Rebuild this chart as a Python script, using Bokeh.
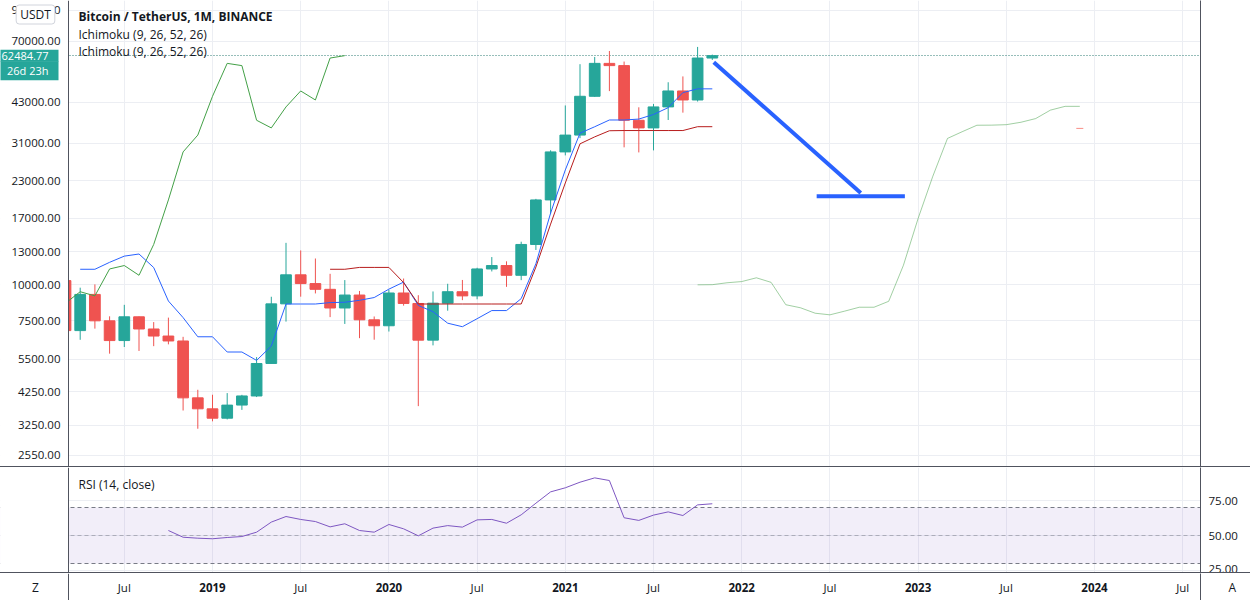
from bokeh.plotting import figure
from bokeh.models import Range1d, FixedTicker, Span, Label, Div
from bokeh.layouts import column
from bokeh.embed import file_html
from bokeh.resources import INLINE
from bokeh.core.properties import value

# ---------------- data ----------------
candle_start = "2018-03"
opens  = [10326, 6922, 9246, 7485, 6392, 7730, 7011, 6627, 6370, 4041,
          3701, 3434, 3814, 4102, 5321, 8574, 10818, 10085, 9631, 8294, 9200, 7546,
          7195, 9352, 8600, 6412, 8620, 9448, 9138, 11335, 11650, 10776, 13791, 19695,
          28923, 33092, 45134, 58739, 57697, 37254, 35045, 41461, 47101, 43820, 61300]
highs  = [11690, 9759, 10020, 7760, 8507, 7750, 7410, 7680, 6586, 4311,
          4143, 4198, 4140, 5600, 9075, 13970, 13147, 12325, 10905, 10370, 9506, 7750,
          9579, 10500, 9188, 9468, 10068, 10380, 11444, 12468, 12050, 14100, 19863, 29300,
          41950, 58352, 61844, 64854, 59592, 41330, 42448, 50500, 52920, 67000, 63000]
lows   = [6600, 6430, 7032, 5755, 6070, 5880, 6111, 6200, 3652, 3156,
          3349, 3400, 3670, 4067, 5320, 7440, 9080, 9320, 7710, 7300, 6515, 6435,
          6871, 8450, 3782, 6150, 8117, 8833, 8893, 11112, 9825, 10364, 13195, 17572,
          28130, 32296, 44950, 47044, 30000, 28805, 29278, 37332, 39600, 43284, 60382]
closes = [6923, 9246, 7485, 6391, 7730, 7011, 6626, 6371, 4041, 3702,
          3434, 3813, 4103, 5320, 8574, 10817, 10085, 9631, 8294, 9200, 7546, 7195,
          9352, 8600, 6410, 8621, 9448, 9138, 11335, 11650, 10776, 13791, 19695, 28923,
          33092, 45135, 58740, 57694, 37253, 35045, 41461, 47101, 43824, 61299, 62484.77]

conversion_start = "2018-04"
conversion_line = [11307, 11307, 11954, 12561, 12776, 11465, 8770, 7681, 6588,
                   6588, 5832, 5832, 5453, 6116, 8563, 8563, 8563, 8660, 8685, 8820, 9018,
                   9645, 10202, 8465, 8053, 7344, 7141, 7613, 8125, 8125, 8941, 11822, 17725,
                   25034, 33593, 35369, 37340, 37340, 37609, 39025, 41213, 46492, 47903, 47903]

base_start = "2019-09"
base_line = [11307, 11307, 11477, 11477, 11477, 10166, 8563, 8563, 8563, 8563, 8563,
             8563, 8563, 8563, 11510, 16228, 22553, 30851, 32622, 34262, 34318, 34318,
             34318, 34318, 34318, 35391, 35391]

lagging_start = "2018-02"
lagging_span = closes[-21:]          # closes shown 25 bars back

span_a_start = "2021-10"
leading_span_a = [9984, 9996, 10149, 10248, 10561, 10184, 8514, 8308, 7954, 7852, 8088,
                  8344, 8344, 8752, 11666, 16977, 23794, 32222, 33996, 35801, 35829,
                  35964, 36672, 37766, 40405, 41647, 41647]
span_b_month = ["2023-12"]
leading_span_b = [34908]

rsi_start = "2018-10"
rsi_values = [53.8, 49.0, 48.3,
              47.9, 48.8, 49.5, 52.6, 59.8, 63.8, 61.7, 60.2, 56.4, 58.6, 53.8, 52.6,
              58.1, 55.0, 50.0, 55.5, 57.3, 56.2, 61.4, 61.7, 59.0, 65.0, 73.3, 81.4,
              84.3, 88.3, 91.4, 89.5, 62.9, 61.0, 64.8, 67.1, 64.5, 72.1, 72.9]
rsi_band = [30, 70]
rsi_mid = 50

# drawings (month index from Jan 2019, price)
trend_m = [34.1, 44.1]
trend_p = [59250, 20820]
level_m = [41.1, 47.1]
level_p = [20270, 20270]

last_price = 62484.77
countdown = "26d 23h"

price_ticks = [90000, 70000, 43000, 31000, 23000, 17000, 13000, 10000, 7500, 5500, 4250, 3250, 2550]
rsi_ticks = [25, 50, 75]
time_ticks = ["2018-07", "2019-01", "2019-07", "2020-01", "2020-07", "2021-01", "2021-07",
              "2022-01", "2022-07", "2023-01", "2023-07", "2024-01", "2024-07"]
time_labels = ["Jul", "2019", "Jul", "2020", "Jul", "2021", "Jul", "2022", "Jul", "2023", "Jul", "2024", "Jul"]


# ---------------- helpers ----------------
def midx(s):
    y, m = map(int, s.split("-"))
    return (y - 2019) * 12 + (m - 1)


def seq(start, n):
    s = midx(start)
    return [s + k for k in range(n)]


X0_PX = 212.0      # pixel of Jan 2019
PX_PER_M = 14.70
AXIS_PX = 68       # width of the left price scale
FRAME_R = 1200


def m_at(px):
    return (px - X0_PX) / PX_PER_M


FONT = "Open Sans"
TXT = "#131722"
GRID = "#ECEEF3"
SEP = "#50535E"
UP = "#26A69A"
DOWN = "#EF5350"

cm = seq(candle_start, len(closes))
up_i = [i for i in range(len(closes)) if closes[i] >= opens[i]]
dn_i = [i for i in range(len(closes)) if closes[i] < opens[i]]
tick_x = [midx(t) for t in time_ticks]

X_RANGE = Range1d(m_at(0), m_at(FRAME_R))


def make_fig(height, y_range, y_type="linear"):
    f = figure(width=1250, height=height, x_range=X_RANGE, y_range=y_range, y_axis_type=y_type,
               x_axis_location=None, y_axis_location="right",
               toolbar_location=None, output_backend="svg",
               min_border_left=0, min_border_right=50, min_border_top=0, min_border_bottom=0)
    f.outline_line_color = None
    f.background_fill_color = "white"
    f.border_fill_color = "white"
    a = f.yaxis[0]
    a.major_tick_line_color = None
    a.minor_tick_line_color = None
    a.major_tick_out = 0
    a.major_tick_in = 0
    a.axis_line_color = SEP
    a.major_label_text_font = FONT
    a.major_label_text_font_size = "11.5px"
    a.major_label_text_color = TXT
    return f


def cover_left(f, y0, y1):
    # white price-scale strip left of the chart area, and its border line
    f.quad(left=m_at(-5), right=m_at(AXIS_PX), bottom=y0, top=y1,
           fill_color="white", line_color=None)
    f.add_layout(Span(location=AXIS_PX, location_units="screen", dimension="height",
                      line_color=SEP, line_width=1))


# ---------------- main pane ----------------
PR = Range1d(2333, 97150)
p = make_fig(466, PR, "log")
p.yaxis[0].ticker = FixedTicker(ticks=[])
p.yaxis[0].major_label_text_font_size = "0px"
p.ygrid.ticker = FixedTicker(ticks=price_ticks)
p.ygrid.grid_line_color = GRID
p.xgrid.ticker = FixedTicker(ticks=tick_x)
p.xgrid.grid_line_color = GRID

p.hspan(y=[last_price], line_color="#2E7D74", line_dash="1 2", line_width=1)

for idx, col in ((up_i, UP), (dn_i, DOWN)):
    xs = [cm[i] for i in idx]
    p.segment(x0=xs, y0=[lows[i] for i in idx], x1=xs, y1=[highs[i] for i in idx],
              line_color=col, line_width=1)
    p.vbar(x=xs, width=0.73, top=[max(opens[i], closes[i]) for i in idx],
           bottom=[min(opens[i], closes[i]) for i in idx],
           fill_color=col, line_color=col, line_width=1)

p.line(seq(lagging_start, len(lagging_span)), lagging_span, line_color="#43A047", line_width=1)
p.line(seq(conversion_start, len(conversion_line)), conversion_line, line_color="#2962FF", line_width=1)
p.line(seq(base_start, len(base_line)), base_line, line_color="#B71C1C", line_width=1)
p.line(seq(span_a_start, len(leading_span_a)), leading_span_a, line_color="#43A047",
       line_alpha=0.5, line_width=1)
p.scatter([midx(s) for s in span_b_month], leading_span_b, marker="dash", size=7,
          line_color="#F44336", line_alpha=0.6, line_width=1)

p.line(trend_m, trend_p, line_color="#2962FF", line_width=4)
p.line(level_m, level_p, line_color="#2962FF", line_width=4)

cover_left(p, 1, 1e7)
p.text(x=[m_at(AXIS_PX - 8)] * len(price_ticks), y=price_ticks,
       text=[f"{t:.2f}" for t in price_ticks], text_font=value(FONT), text_font_size="11.5px",
       text_color=TXT, text_align="right", text_baseline="middle")

H = 466
p.add_layout(Label(x=78, y=H - 16, x_units="screen", y_units="screen",
                   text="Bitcoin / TetherUS, 1M, BINANCE", text_font=FONT, text_font_size="12px",
                   text_font_style="bold", text_color=TXT, text_baseline="middle"))
p.add_layout(Label(x=78, y=H - 33.5, x_units="screen", y_units="screen",
                   text="Ichimoku (9, 26, 52, 26)", text_font=FONT, text_font_size="12px",
                   text_color=TXT, text_baseline="middle"))
p.add_layout(Label(x=78, y=H - 50.5, x_units="screen", y_units="screen",
                   text="Ichimoku (9, 26, 52, 26)", text_font=FONT, text_font_size="12px",
                   text_color=TXT, text_baseline="middle"))

# last-price tag (two stacked lines)
p.add_layout(Label(x=58, y=H - 55.2, x_units="screen", y_units="screen",
                   text=f"{last_price:.2f}", text_font=FONT, text_font_size="11px",
                   text_color="white", text_align="right", text_baseline="middle",
                   background_fill_color=UP,
                   padding=dict(left=6, right=10, top=2, bottom=2)))
p.add_layout(Label(x=58, y=H - 70.2, x_units="screen", y_units="screen",
                   text=countdown, text_font=FONT, text_font_size="11px",
                   text_color="white", text_align="right", text_baseline="middle",
                   background_fill_color=UP,
                   padding=dict(left=20, right=10, top=2, bottom=2)))
p.add_layout(Label(x=35, y=H - 14, x_units="screen", y_units="screen",
                   text="USDT", text_font=FONT, text_font_size="12px",
                   text_color=TXT, text_align="center", text_baseline="middle",
                   background_fill_color="white", border_line_color="#D1D4DC",
                   border_radius=3,
                   padding=dict(left=4, right=4, top=1, bottom=1)))

sep1 = Div(text="", width=1250, height=1, margin=0, styles={"background-color": SEP})

# ---------------- RSI pane ----------------
r = make_fig(105, Range1d(23.8, 98.8))
ra = r.yaxis[0]
ra.ticker = FixedTicker(ticks=rsi_ticks)
ra.major_label_overrides = {t: f"{t:.2f}" for t in rsi_ticks}
ra.major_label_standoff = 8
r.ygrid.grid_line_color = GRID
r.xgrid.ticker = FixedTicker(ticks=tick_x)
r.xgrid.grid_line_color = GRID

r.hstrip(y0=[rsi_band[0]], y1=[rsi_band[1]], fill_color="#7E57C2", fill_alpha=0.1, line_color=None)
r.hspan(y=rsi_band, line_color="#787B86", line_dash="4 3", line_width=1)
r.hspan(y=[rsi_mid], line_color="#787B86", line_alpha=0.5, line_dash="4 3", line_width=1)
r.line(seq(rsi_start, len(rsi_values)), rsi_values, line_color="#7E57C2", line_width=1)
cover_left(r, 0, 200)
r.add_layout(Label(x=78, y=88, x_units="screen", y_units="screen",
                   text="RSI (14, close)", text_font=FONT, text_font_size="12px",
                   text_color=TXT, text_baseline="middle"))

sep2 = Div(text="", width=1250, height=1, margin=0, styles={"background-color": SEP})

# ---------------- time axis row ----------------
b = make_fig(27, Range1d(0, 1))
ba = b.yaxis[0]
ba.ticker = FixedTicker(ticks=[0.5])
ba.major_label_overrides = {0.5: "A"}
ba.major_label_standoff = 28
ba.major_label_text_font_size = "12px"
b.xgrid.visible = False
b.ygrid.visible = False
mon_x = [x for x, l in zip(tick_x, time_labels) if not l.isdigit()]
mon_l = [l for l in time_labels if not l.isdigit()]
yr_x = [x for x, l in zip(tick_x, time_labels) if l.isdigit()]
yr_l = [l for l in time_labels if l.isdigit()]
b.text(x=mon_x, y=[0.5] * len(mon_x), text=mon_l, text_font=value(FONT), text_font_size="11.5px",
       text_color=TXT, text_align="center", text_baseline="middle")
b.text(x=yr_x, y=[0.5] * len(yr_x), text=yr_l, text_font=value(FONT), text_font_size="11.5px",
       text_font_style="bold", text_color=TXT, text_align="center", text_baseline="middle")
b.add_layout(Span(location=AXIS_PX, location_units="screen", dimension="height", line_color=SEP, line_width=1))
b.add_layout(Label(x=35, y=13.5, x_units="screen", y_units="screen", text="Z", text_font=FONT,
                   text_font_size="12px", text_color=TXT, text_align="center", text_baseline="middle"))

layout = column(p, sep1, r, sep2, b, spacing=0)
open("out.html", "w").write(file_html(layout, INLINE))
